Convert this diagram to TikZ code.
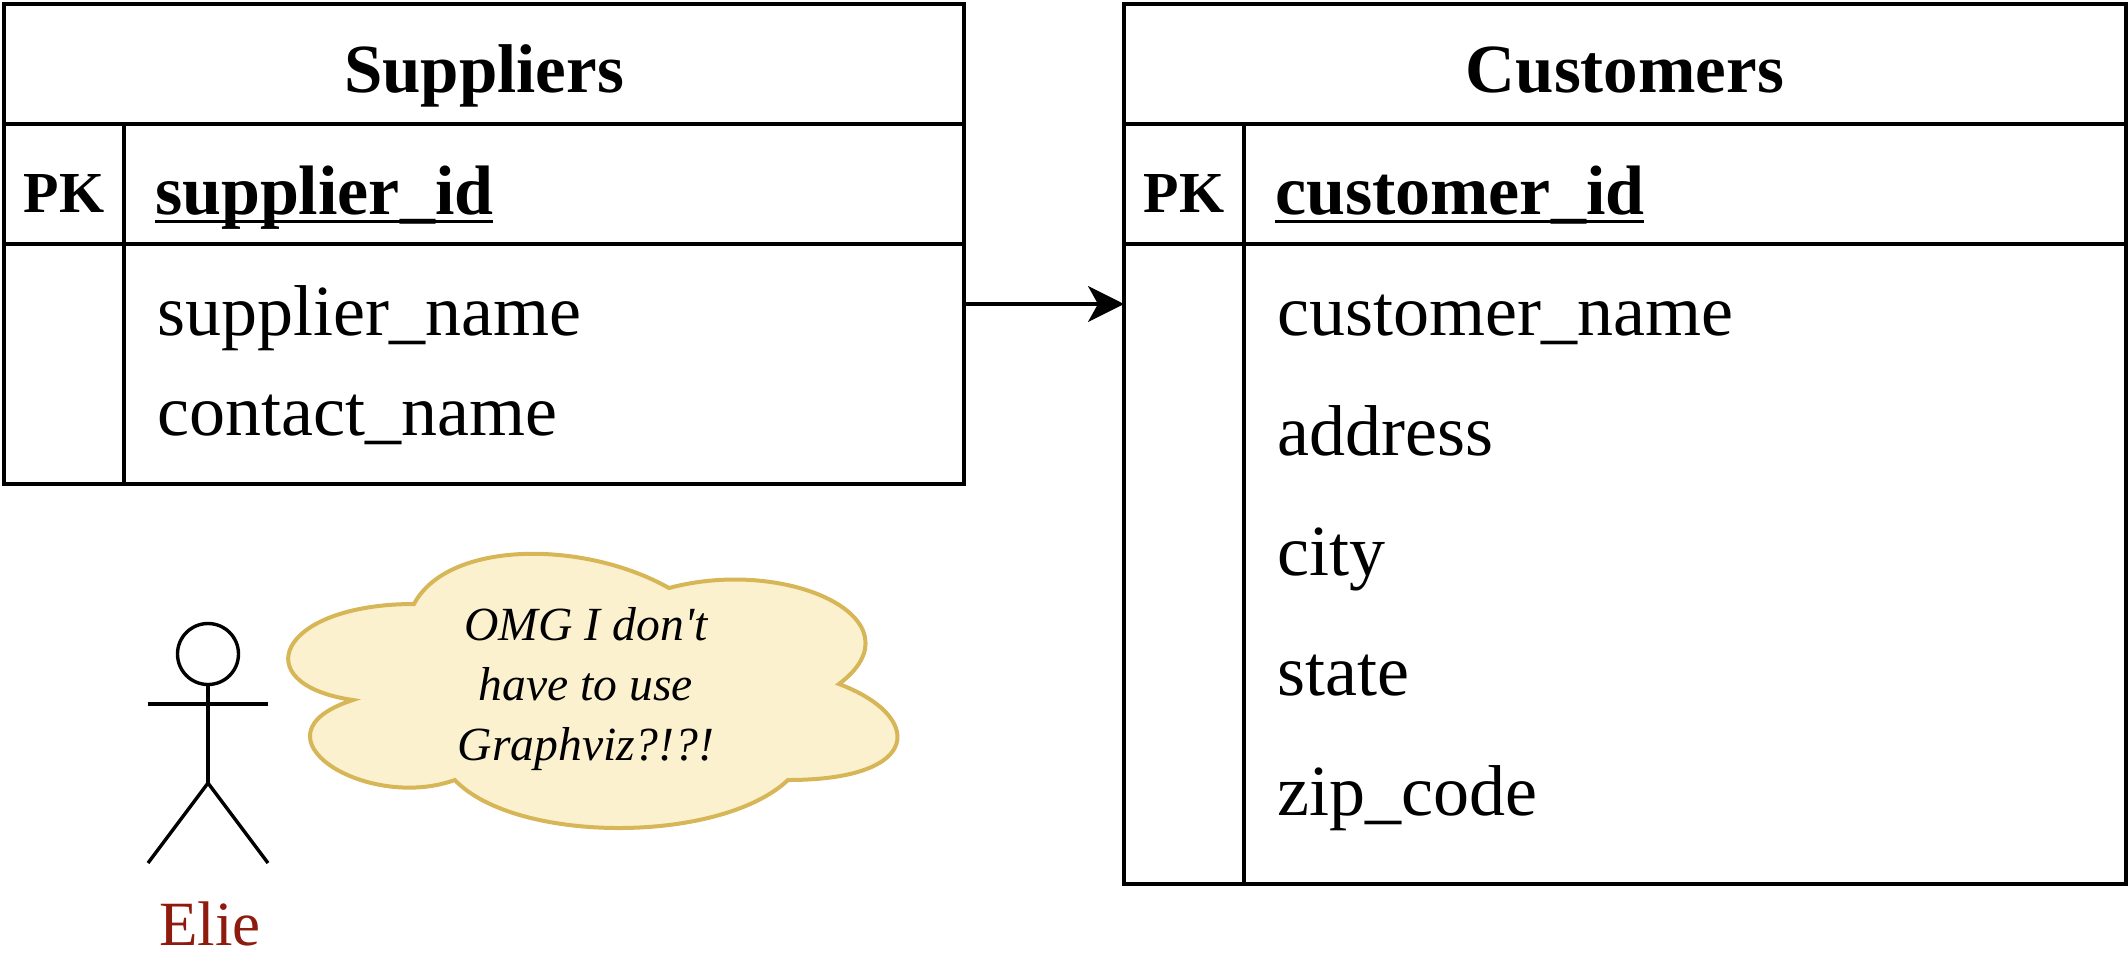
\documentclass[tikz,border=0pt]{standalone}
\usepackage{fontspec}
\setmainfont{Liberation Serif}[Ligatures=TeXOff]
\usepackage{xcolor}
\usetikzlibrary{arrows.meta, positioning}
\definecolor{cloudfill}{HTML}{FCF1CF}
\definecolor{cloudline}{HTML}{D6B656}
\definecolor{actorred}{HTML}{8F1A0E}
\newcommand{\keyname}[1]{\setbox0=\hbox{#1}\rlap{\rule[-4.25pt]{\wd0}{1.5pt}}\box0}
\tikzset{
    cell/.style={rectangle, draw, line width=1.7pt, outer sep=0pt, inner sep=0pt, font=\fontsize{35}{42}\selectfont},
    titlecell/.style={cell, minimum height=60pt, font=\fontsize{34.5}{42}\selectfont\bfseries, text height=30pt, text depth=2pt},
    pkcell/.style={cell, minimum width=60pt, minimum height=60pt, font=\fontsize{29}{42}\selectfont\bfseries, text height=30pt, text depth=2pt},
    idcell/.style={cell, minimum height=60pt, font=\fontsize{35}{42}\selectfont\bfseries, text height=31pt, text depth=1pt, align=left},
    fieldtext/.style={anchor=base west, inner sep=0pt, font=\fontsize{36}{42}\selectfont},
    relarrow/.style={-{Stealth[length=18pt, width=18pt, inset=5pt]}, line width=1.7pt},
    actorline/.style={draw, line width=1.7pt},
}
\begin{document}
\begin{tikzpicture}[x=0.5pt, y=-0.5pt]
    \useasboundingbox (0,0) rectangle (2128,965);
    % suppliers table
    \node[titlecell, minimum width=480pt, anchor=north west] (suptitle) at (4,4) {Suppliers};
    \node[pkcell, below=0pt of suptitle.south west, anchor=north west] (suppk) {PK};
    \node[idcell, minimum width=420pt, text width=389pt, text badly ragged, right=0pt of suppk.north east, anchor=north west] (supid) {\keyname{supplier\_id}};
    \node[cell, minimum width=60pt, minimum height=120pt, below=0pt of suppk.south west, anchor=north west] (supcol) {};
    \node[cell, minimum width=420pt, minimum height=120pt, right=0pt of supcol.north east, anchor=north west] (supbody) {};
    \node[fieldtext] (supname) at (157,335) {supplier\_name};
    \node[fieldtext] (contact) at (157,435) {contact\_name};
    % customers table
    \node[titlecell, minimum width=501pt, anchor=north west] (custtitle) at (1124,4) {Customers};
    \node[pkcell, below=0pt of custtitle.south west, anchor=north west] (custpk) {PK};
    \node[idcell, minimum width=441pt, text width=410pt, text badly ragged, right=0pt of custpk.north east, anchor=north west] (custid) {\keyname{customer\_id}};
    \node[cell, minimum width=60pt, minimum height=320pt, below=0pt of custpk.south west, anchor=north west] (custcol) {};
    \node[cell, minimum width=441pt, minimum height=320pt, right=0pt of custcol.north east, anchor=north west] (custbody) {};
    \node[fieldtext] (custname) at (1277,335) {customer\_name};
    \node[fieldtext] (address) at (1277,455) {address};
    \node[fieldtext] (city) at (1277,575) {city};
    \node[fieldtext] (state) at (1277,695) {state};
    \node[fieldtext] (zip) at (1277,815) {zip\_code};
    \draw[relarrow] ([yshift=-30pt]supbody.north east) -- ([yshift=-30pt]custcol.north west);
    % actor
    \node[circle, draw, line width=1.7pt, minimum size=30.5pt, inner sep=0pt, outer sep=0pt] (head) at (208,654) {};
    \coordinate (armleft) at (148,704);
    \coordinate (armright) at (268,704);
    \coordinate (hip) at (208,783);
    \coordinate (footleft) at (148,863);
    \coordinate (footright) at (268,863);
    \path[actorline] (head.south) -- (hip);
    \path[actorline] (armleft) -- (armright);
    \path[actorline] (footleft) -- (hip) -- (footright);
    \node[anchor=base, inner sep=0pt, text=actorred, font=\fontsize{31.5}{38}\selectfont] (actorname) at (210,945) {Elie};
    % cloud
    \draw[fill=cloudfill, draw=cloudline, line width=2pt] (414,604)
        .. controls (278,604) and (244,684) .. (352.8,700)
        .. controls (244,735.2) and (366.4,812) .. (454.8,780)
        .. controls (516,844) and (720,844) .. (788,780)
        .. controls (924,780) and (924,716) .. (839,684)
        .. controls (924,620) and (788,556) .. (669,588)
        .. controls (584,540) and (448,540) .. (414,604) -- cycle;
    \node[align=center, inner sep=0pt, font=\fontsize{23.8}{30}\selectfont\itshape] (thought) at (586,689) {OMG I don't\\have to use\\Graphviz?!?!};
\end{tikzpicture}
\end{document}
